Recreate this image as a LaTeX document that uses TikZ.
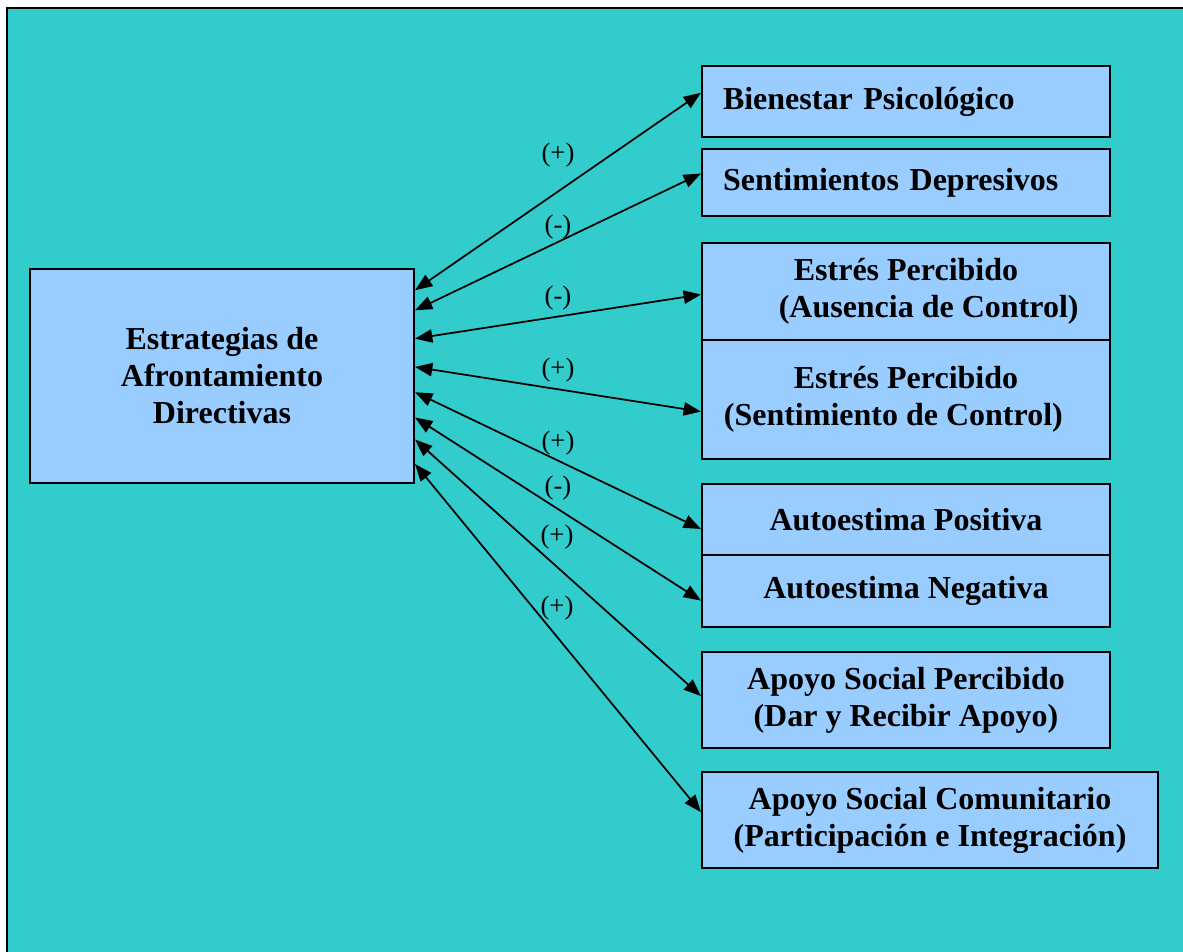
\documentclass[tikz,border=0pt]{standalone}
\usepackage{fontspec}
\setmainfont{Liberation Serif}
\usepackage{xcolor}
\usetikzlibrary{arrows.meta,calc}

\definecolor{bgteal}{HTML}{33CCCC}
\definecolor{boxblue}{HTML}{99CCFF}

\begin{document}
\begin{tikzpicture}[x=0.75pt,y=-0.75pt,
  box/.style={draw=black,fill=boxblue,line width=1.5pt,inner sep=0pt,align=center,
    font=\fontsize{24}{27.75}\selectfont\bfseries},
  leftbox/.style={box,align=left,text width=274.5pt,inner xsep=15.75pt},
  link/.style={line width=1.3pt,{Triangle[length=13pt,width=10pt]}-{Triangle[length=13pt,width=10pt]}},
  sign/.style={font=\fontsize{20}{24}\selectfont}]
\useasboundingbox (0,0) rectangle (1183,951);
% background panel
\fill [bgteal] (7,8) rectangle (1190,960);
\draw [line width=1.5pt] (1190,8) -- (7,8) -- (7,960);
% boxes
\node [box,minimum width=288pt,minimum height=160.5pt] (afront) at (222,376) {Estrategias de\\Afrontamiento\\Directivas};
\node [leftbox,minimum height=53.25pt] (bien) at (906,101.5) {Bienestar Psicológico};
\node [leftbox,minimum height=50.25pt] (sent) at (906,182.5) {Sentimientos Depresivos};
\node [box,minimum width=306pt,minimum height=72.75pt] (estA) at (906,291.5) {Estrés Percibido\\\hspace*{34pt}(Ausencia de Control)};
\node [box,minimum width=306pt,minimum height=89.25pt] (estS) at (906,399.5) {Estrés Percibido\\(Sentimiento de Control)\hspace*{19pt}};
\node [box,minimum width=306pt,minimum height=53.25pt] (autP) at (906,519.5) {Autoestima Positiva};
\node [box,minimum width=306pt,minimum height=54pt] (autN) at (906,591) {Autoestima Negativa};
\node [box,minimum width=306pt,minimum height=72pt] (apoP) at (906,700) {Apoyo Social Percibido\\(Dar y Recibir Apoyo)};
\node [box,minimum width=342pt,minimum height=72pt] (apoC) at (930,820) {Apoyo Social Comunitario\\(Participación e Integración)};
% links
\draw [link] ($(afront.north east)!0.103!(afront.south east)$) -- ($(bien.north west)!0.38!(bien.south west)$);
\draw [link] ($(afront.north east)!0.196!(afront.south east)$) -- ($(sent.north west)!0.37!(sent.south west)$);
\draw [link] ($(afront.north east)!0.327!(afront.south east)$) -- ($(estA.north west)!0.53!(estA.south west)$);
\draw [link] ($(afront.north east)!0.458!(afront.south east)$) -- ($(estS.north west)!0.6!(estS.south west)$);
\draw [link] ($(afront.north east)!0.575!(afront.south east)$) -- ($(autP.north west)!0.63!(autP.south west)$);
\draw [link] ($(afront.north east)!0.692!(afront.south east)$) -- ($(autN.north west)!0.63!(autN.south west)$);
\draw [link] ($(afront.north east)!0.794!(afront.south east)$) -- ($(apoP.north west)!0.46!(apoP.south west)$);
\draw [link] ($(afront.north east)!0.907!(afront.south east)$) -- ($(apoC.north west)!0.42!(apoC.south west)$);
% signs
\node [sign] (s1) at (558,155) {(+)};
\node [sign] (s2) at (558,227) {(-)};
\node [sign] (s3) at (558,298) {(-)};
\node [sign] (s4) at (558,370) {(+)};
\node [sign] (s5) at (558,443) {(+)};
\node [sign] (s6) at (558,488) {(-)};
\node [sign] (s7) at (557,537) {(+)};
\node [sign] (s8) at (557,608) {(+)};
\end{tikzpicture}
\end{document}
